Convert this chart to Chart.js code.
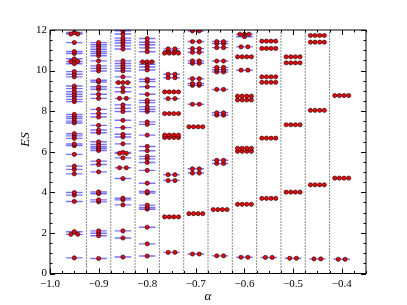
<!DOCTYPE html>
<html>
<head>
<meta charset="utf-8">
<script src="https://cdn.jsdelivr.net/npm/chart.js@4.4.1/dist/chart.umd.min.js"></script>
<style>
  html, body { margin: 0; padding: 0; background: #fff; }
</style>
</head>
<body>
<canvas id="c" width="407" height="305"></canvas>
<script>
// coupling values (one column of levels per alpha)
var alpha = [-0.95, -0.9, -0.85, -0.8, -0.75, -0.7, -0.65, -0.6, -0.55, -0.5, -0.45, -0.4];

// entanglement spectrum levels, degenerate levels repeated
var es095 = [0.77, 1.93, 1.93, 2.06, 3.55, 3.86, 3.99, 4.91, 5.13, 5.29, 5.87, 6.3, 6.38, 6.66, 6.78, 6.89,
             7.42, 7.51, 7.64, 7.74, 7.84, 8.47, 8.58, 8.72, 8.83, 8.96, 9.11, 9.24, 9.69, 9.82, 9.95,
             10.34, 10.45, 10.45, 10.58, 10.84, 10.94, 11.38, 11.8, 11.8, 11.88];
var es090 = [0.74, 1.86, 1.98, 2.1, 3.53, 3.63, 3.93, 4.02, 5.01, 5.37, 5.54, 6.06, 6.16, 6.25, 6.36, 6.49,
             6.94, 7.07, 7.3, 7.71, 7.88, 8.09, 8.63, 8.83, 9.08, 9.2, 9.44, 9.52, 9.98, 10.11, 10.23,
             10.48, 10.73, 10.84, 10.94, 11.05, 11.17, 11.27, 11.38];
var es085 = [0.81, 1.75, 2.1, 3.38, 3.63, 3.71, 4.68, 5.21, 5.21, 5.7, 5.92, 5.92, 5.97, 6.39, 6.73, 6.86,
             7.19, 7.55, 7.98, 8.14, 8.31, 8.63, 8.63, 8.96, 9.16, 9.41, 9.41, 9.41, 9.69, 9.98, 10.11,
             10.23, 10.35, 10.48, 11.06, 11.22, 11.36, 11.48, 11.6, 11.8, 11.96];
var es080 = [0.86, 1.46, 2.28, 3.17, 3.25, 3.37, 3.96, 4.04, 4.45, 5.08, 5.47, 5.65, 5.77, 6.05, 6.26, 6.82,
             7.35, 7.47, 7.98, 8.09, 8.21, 8.42, 8.53, 8.83, 9.2, 9.46, 9.57, 10.03, 10.18, 10.31,
             10.43, 10.43, 10.43, 10.93, 11.12, 11.27, 11.4, 11.58];
var es075 = [1.04, 1.04, 2.79, 2.79, 2.79, 2.79, 4.58, 4.58, 4.87, 4.87, 6.7, 6.7, 6.7, 6.7, 6.82, 6.82, 6.82, 6.82,
             7.88, 7.88, 7.88, 7.88, 8.62, 8.62, 8.95, 8.95, 8.95, 8.95, 9.65, 9.65, 9.82, 9.82,
             10.86, 10.86, 10.86, 10.86, 10.97, 10.97, 11.07, 11.07];
var es070 = [0.96, 0.96, 2.95, 2.95, 2.95, 2.95, 4.95, 4.95, 5.16, 5.16, 7.23, 7.23, 7.23, 7.23, 8.34, 8.34,
             9.27, 9.27, 9.36, 9.36, 9.6, 9.6, 10.36, 10.36, 10.48, 10.48, 10.9, 10.9, 11.08, 11.08,
             11.43, 11.43, 11.95, 11.95];
var es065 = [0.87, 0.87, 3.15, 3.15, 3.15, 3.15, 5.42, 5.42, 5.58, 5.58, 7.8, 7.8, 7.92, 7.92, 9.07, 9.07,
             9.93, 9.93, 10.04, 10.04, 10.16, 10.16, 10.47, 10.47, 11.13, 11.13, 11.33, 11.33, 11.43, 11.43];
var es060 = [0.8, 0.8, 3.41, 3.41, 3.41, 3.41, 6.02, 6.02, 6.02, 6.02, 6.17, 6.17, 6.17, 6.17,
             8.55, 8.55, 8.55, 8.55, 8.74, 8.74, 8.74, 8.74, 10.02, 10.02, 10.68, 10.68, 10.68, 10.68,
             11.17, 11.17, 11.67, 11.79, 11.79, 11.79];
var es055 = [0.79, 0.79, 3.7, 3.7, 3.7, 3.7, 6.67, 6.67, 6.67, 6.67, 9.42, 9.42, 9.42, 9.42,
             9.69, 9.69, 9.69, 9.69, 11.09, 11.09, 11.09, 11.09, 11.45, 11.45, 11.45, 11.45];
var es050 = [0.75, 0.75, 4.01, 4.01, 4.01, 4.01, 7.33, 7.33, 7.33, 7.33, 10.38, 10.38, 10.38, 10.38,
             10.68, 10.68, 10.68, 10.68];
var es045 = [0.72, 0.72, 4.37, 4.37, 4.37, 4.37, 8.04, 8.04, 8.04, 8.04, 11.4, 11.4, 11.4, 11.4,
             11.73, 11.73, 11.73, 11.73];
var es040 = [0.7, 0.7, 4.7, 4.7, 4.7, 4.7, 8.77, 8.77, 8.77, 8.77];

var levels = [es095, es090, es085, es080, es075, es070, es065, es060, es055, es050, es045, es040];

var dots = [];
var bars = [];
var seps = [];
var $each = function(arr, fn){ for (var i = 0; i < arr.length; i++) fn(arr[i], i); };

$each(alpha, function(a, i){
    var count = {};
    var order = [];
    $each(levels[i], function(e){
        if (count[e] === undefined) { count[e] = 0; order.push(e); }
        count[e]++;
    });
    $each(order, function(e){
        var n = count[e];
        var sp = n === 2 ? 0.014 : 0.0095;
        for (var k = 0; k < n; k++) dots.push({x: a + (k - (n - 1) / 2) * sp, y: e});
        bars.push({x: a - 0.017, y: e}, {x: a + 0.017, y: e}, {x: a, y: null});
    });
    if (i < alpha.length - 1) {
        var m = (a + alpha[i + 1]) / 2;
        seps.push({x: m, y: 0}, {x: m, y: 12}, {x: m, y: null});
    }
});

var serif = 'Liberation Serif';
function fmt(v){
    return (v < 0 ? '\u2212' : '') + Math.abs(v).toFixed(1);
}

// frame + inward ticks on all four sides, ES label
var frame = {
    id: 'frame',
    afterDatasetsDraw: function(chart){
        var ctx = chart.ctx, ca = chart.chartArea;
        var xs = chart.scales.x, ys = chart.scales.y;
        ctx.save();
        ctx.strokeStyle = '#000';
        ctx.lineWidth = 1;
        ctx.strokeRect(ca.left, ca.top, ca.right - ca.left, ca.bottom - ca.top);
        ctx.beginPath();
        for (var v = -1; v <= -0.35 + 1e-9; v += 0.025) {
            var px = Math.round(xs.getPixelForValue(v)) + 0.5;
            var major = Math.abs(v * 10 - Math.round(v * 10)) < 1e-6;
            var len = major ? 5 : 2.5;
            ctx.moveTo(px, ca.bottom); ctx.lineTo(px, ca.bottom - len);
            ctx.moveTo(px, ca.top); ctx.lineTo(px, ca.top + len);
        }
        for (var w = 0; w <= 12 + 1e-9; w += 0.5) {
            var py = Math.round(ys.getPixelForValue(w)) + 0.5;
            var len2 = (w % 2 === 0) ? 5 : 2.5;
            ctx.moveTo(ca.left, py); ctx.lineTo(ca.left + len2, py);
            ctx.moveTo(ca.right, py); ctx.lineTo(ca.right - len2, py);
        }
        ctx.stroke();
        // y title, sits a bit above the axis centre like the original
        ctx.translate(26, ys.getPixelForValue(6.6));
        ctx.rotate(-Math.PI / 2);
        ctx.fillStyle = '#000';
        ctx.font = 'italic 13px "' + serif + '"';
        ctx.textAlign = 'center';
        ctx.textBaseline = 'middle';
        ctx.fillText('ES', 0, 0);
        ctx.restore();
    }
};

var config = {
    type: 'scatter',
    data: {
        datasets: [
            {
                data: dots,
                backgroundColor: '#f00',
                borderColor: '#000',
                borderWidth: 0.6,
                pointRadius: 2.1,
                pointHoverRadius: 2.1
            },
            {
                data: bars,
                showLine: true,
                spanGaps: false,
                borderColor: 'rgba(0,0,255,0.55)',
                borderWidth: 1.4,
                pointRadius: 0
            },
            {
                data: seps,
                showLine: true,
                spanGaps: false,
                borderColor: 'rgba(0,0,0,0.9)',
                borderWidth: 1,
                borderDash: [1, 2],
                pointRadius: 0
            }
        ]
    },
    options: {
        responsive: false,
        animation: false,
        devicePixelRatio: 1,
        layout: { padding: { top: 30, right: 41, left: 0, bottom: 0 } },
        plugins: { legend: { display: false }, tooltip: { enabled: false } },
        scales: {
            x: {
                type: 'linear',
                min: -1,
                max: -0.35,
                grid: { display: false, drawTicks: false },
                border: { display: false },
                ticks: { stepSize: 0.1, includeBounds: false, padding: 4, color: '#000',
                         font: { family: serif, size: 11 }, callback: fmt },
                title: { display: true, text: 'α', color: '#000',
                         font: { family: serif, size: 13, style: 'italic' }, padding: { top: 0, bottom: 1 } },
                afterFit: function(s){ s.height = 31.5; }
            },
            y: {
                type: 'linear',
                min: 0,
                max: 12,
                grid: { display: false, drawTicks: false },
                border: { display: false },
                ticks: { stepSize: 2, padding: 3, color: '#000', font: { family: serif, size: 11 } },
                afterFit: function(s){ s.width = 50; }
            }
        }
    },
    plugins: [frame]
};

var chart = new Chart(document.getElementById('c').getContext('2d'), config);
</script>
</body>
</html>
